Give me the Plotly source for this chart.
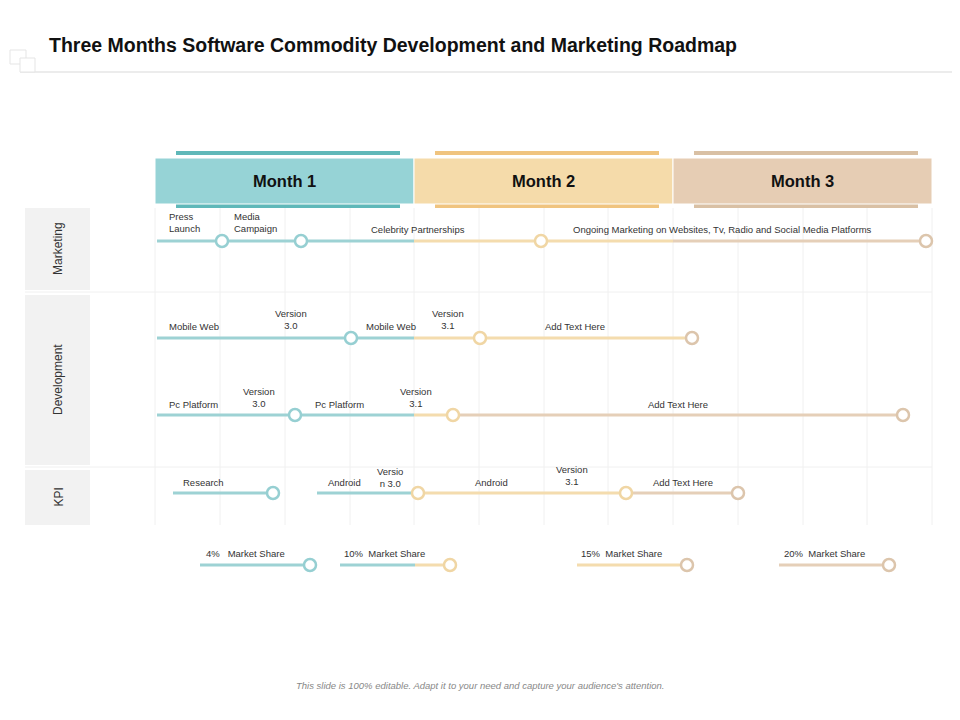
import plotly.graph_objects as go

TEAL, YEL, TAN = "#9dd2d4", "#f4dcae", "#e5cfb8"
MK = {"t": "#96cfd2", "y": "#f0d6a4", "n": "#dcc5ac"}
COL = {"t": TEAL, "y": YEL, "n": TAN}

months = ["Month 1", "Month 2", "Month 3"]
month_edges = [155, 414, 673, 932]
row_names = ["Marketing", "Development", "KPI"]
row_spans = [(208, 290), (295, 465), (470, 525)]
grid_x = [155, 220, 285, 350, 414, 479, 544, 608, 673, 738, 803, 867, 932]

# segments: (row y, x0, x1, colour key)
seg_y = [241, 241, 241, 338, 338, 415, 415, 415, 493, 493, 493, 493, 565, 565, 565, 565, 565]
seg_x0 = [157, 414, 673, 157, 414, 157, 414, 452, 173, 317, 418, 626, 200, 340, 415, 577, 779]
seg_x1 = [414, 673, 926, 414, 692, 414, 452, 903, 273, 418, 626, 738, 310, 415, 450, 687, 889]
seg_c = ["t", "y", "n", "t", "y", "t", "y", "n", "t", "t", "y", "n", "t", "t", "y", "y", "n"]

mk_x = [222, 301, 541, 926, 351, 480, 692, 295, 453, 903, 273, 418, 626, 738, 310, 450, 687, 889]
mk_y = [241, 241, 241, 241, 338, 338, 338, 415, 415, 415, 493, 493, 493, 493, 565, 565, 565, 565]
mk_c = ["t", "t", "y", "n", "t", "y", "n", "t", "y", "n", "t", "y", "y", "n", "t", "y", "n", "n"]

lbl_text = ["Press<br>Launch", "Media<br>Campaign", "Celebrity Partnerships",
            "Ongoing Marketing on Websites, Tv, Radio and Social Media Platforms",
            "Mobile Web", "Version<br>3.0", "Mobile Web", "Version<br>3.1", "Add Text Here",
            "Pc Platform", "Version<br>3.0", "Pc Platform", "Version<br>3.1", "Add Text Here",
            "Research", "Android", "Versio<br>n 3.0", "Android", "Version<br>3.1", "Add Text Here",
            "4%   Market Share", "10%  Market Share", "15%  Market Share", "20%  Market Share"]
lbl_x = [167, 232, 418, 722, 167, 291, 391, 448, 575, 167, 259, 339, 416, 678,
         203, 344, 390, 491, 572, 683, 245, 384, 621, 824]
lbl_y = [222, 222, 229, 229, 326, 319, 326, 319, 326, 404, 397, 404, 397, 404,
         482, 482, 477, 482, 475, 482, 553, 553, 553, 553]
lbl_anchor = ["left", "left", "center", "center", "left", "center", "center", "center", "center",
              "left", "center", "center", "center", "center",
              "center", "center", "center", "center", "center", "center",
              "center", "center", "center", "center"]

fig = go.Figure()
shapes = []
for gx in grid_x:
    shapes.append(dict(type="line", x0=gx, x1=gx, y0=208, y1=525, line=dict(color="#f0f0f0", width=1), layer="below"))
for hy in [292, 467]:
    shapes.append(dict(type="line", x0=25, x1=932, y0=hy, y1=hy, line=dict(color="#f0f0f0", width=1), layer="below"))
for (a, b) in row_spans:
    shapes.append(dict(type="rect", x0=25, x1=90, y0=a, y1=b, fillcolor="#f2f2f2", line_width=0, layer="below"))

head_fill = ["#96d3d6", "#f5dbaa", "#e6cdb4"]
head_bar = ["#5fb8b9", "#f0c47f", "#d9c0a4"]
for i in range(3):
    x0, x1 = month_edges[i], month_edges[i + 1]
    shapes.append(dict(type="rect", x0=x0 + 21, x1=x1 - 14, y0=151, y1=155, fillcolor=head_bar[i], line_width=0))
    shapes.append(dict(type="rect", x0=x0 + 21, x1=x1 - 14, y0=204, y1=208, fillcolor=head_bar[i], line_width=0))
    shapes.append(dict(type="rect", x0=x0, x1=x1, y0=158, y1=204, fillcolor=head_fill[i], line=dict(color="white", width=1)))
# title decor
shapes.append(dict(type="line", x0=20, x1=960, y0=72, y1=72, line=dict(color="#d9d9d9", width=1)))
shapes.append(dict(type="rect", x0=10, x1=26, y0=50, y1=64, line=dict(color="#e5e5e5", width=1)))
shapes.append(dict(type="rect", x0=20, x1=35, y0=58, y1=72, line=dict(color="#e5e5e5", width=1), fillcolor="white"))

for y, a, b, c in zip(seg_y, seg_x0, seg_x1, seg_c):
    fig.add_trace(go.Scatter(x=[a, b], y=[y, y], mode="lines", line=dict(color=COL[c], width=3),
                             hoverinfo="skip", showlegend=False))
fig.add_trace(go.Scatter(x=mk_x, y=mk_y, mode="markers", showlegend=False,
                         marker=dict(size=12, color="white", line=dict(color=[MK[c] for c in mk_c], width=2.5))))

ann = []
for t, x, y, a in zip(lbl_text, lbl_x, lbl_y, lbl_anchor):
    ann.append(dict(x=x, y=y, text=t, showarrow=False, xanchor=a, yanchor="middle", align=a,
                    font=dict(size=9.5, color="#333", family="Liberation Sans")))
for i, m in enumerate(months):
    ann.append(dict(x=(month_edges[i] + month_edges[i + 1]) / 2, y=181, text="<b>%s</b>" % m, showarrow=False,
                    font=dict(size=16.5, color="#111", family="Liberation Sans")))
for n, (a, b) in zip(row_names, row_spans):
    ann.append(dict(x=58, y=(a + b) / 2, text=n, textangle=-90, showarrow=False,
                    font=dict(size=12, color="#333", family="Liberation Sans")))
ann.append(dict(x=47, y=45, xanchor="left", text="<b>Three Months Software Commodity Development and Marketing Roadmap</b>",
                showarrow=False, font=dict(size=19.5, color="#111", family="Liberation Sans")))
ann.append(dict(x=480, y=685, text="<i>This slide is 100% editable. Adapt it to your need and capture your audience's attention.</i>",
                showarrow=False, font=dict(size=9.5, color="#888", family="Liberation Sans")))

# the page adds an 8px body margin, so shift the visible range to compensate
fig.update_layout(width=960, height=720, margin=dict(l=0, r=0, t=0, b=0),
                  plot_bgcolor="white", paper_bgcolor="white", shapes=shapes, annotations=ann,
                  xaxis=dict(range=[8, 968], visible=False, fixedrange=True),
                  yaxis=dict(range=[728, 8], visible=False, fixedrange=True))
fig.write_html("out.html")
